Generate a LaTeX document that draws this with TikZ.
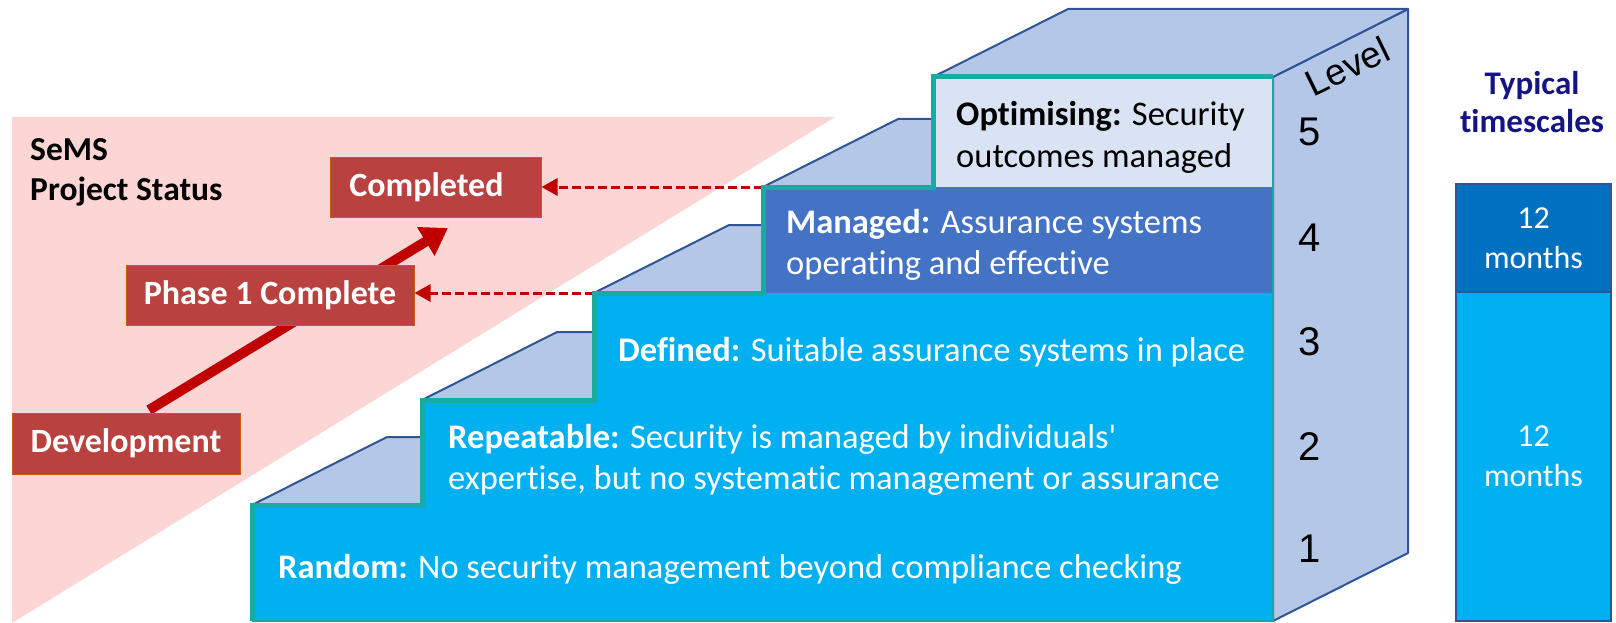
\documentclass[tikz,border=0pt]{standalone}
\usepackage{fontspec}
\setmainfont{Carlito}
\newfontfamily\calibri{Carlito}[Ligatures=NoCommon]
\newfontfamily\arialf{Liberation Sans}
\usetikzlibrary{arrows.meta}
\definecolor{pinkbg}{RGB}{252,213,213}
\definecolor{redbox}{RGB}{185,66,64}
\definecolor{redline}{RGB}{192,0,0}
\definecolor{boxedge}{RGB}{197,90,17}
\definecolor{tealc}{RGB}{24,170,165}
\definecolor{cyanc}{RGB}{0,176,240}
\definecolor{managedc}{RGB}{68,114,196}
\definecolor{optc}{RGB}{218,227,243}
\definecolor{topc}{RGB}{180,199,231}
\definecolor{edgec}{RGB}{47,85,151}
\definecolor{tsdark}{RGB}{0,112,192}
\definecolor{navyc}{RGB}{20,20,130}
\newcommand\twoL[2]{\vtop{\hbox{#1}\hbox{#2}}}
\newcommand\twoC[2]{\vtop{\halign{\hfil##\hfil\cr#1\cr#2\cr}}}
\begin{document}
\begin{tikzpicture}[x=1pt,y=-1pt,
  redlabel/.style={fill=redbox, draw=boxedge, line width=1pt, text=white,
    font=\calibri\bfseries\fontsize{34}{40}\selectfont, inner sep=0pt},
  steptext/.style={anchor=base west, inner sep=0pt, text=white,
    font=\calibri\fontsize{34.5}{41}\selectfont},
  levelnum/.style={anchor=base, inner sep=0pt, font=\arialf\fontsize{40}{48}\selectfont},
  tread/.style={fill=topc, draw=edgec, line width=2pt, line join=round},
  dasharrow/.style={redline, line width=3pt, dash pattern=on 9pt off 4pt,
    -{Triangle[length=16pt,width=17pt]}},
  bigarrow/.style={redline, line width=10pt, -{Triangle[length=26pt,width=32pt]}},
  tsbox/.style={draw=edgec, line width=1.5pt, minimum width=155pt, inner sep=0pt,
    text=white, font=\calibri\fontsize{32}{40}\selectfont}
]
\useasboundingbox (0,0) rectangle (1616,623);
% pink status background
\fill[pinkbg] (12,117) -- (835,117) -- (12,623) -- cycle;
% progress arrow (behind the boxes)
\coordinate (a0) at (149,410);
\coordinate (a1) at (448,228);
\draw[bigarrow] (a0) -- (a1);
% status boxes
\node[redlabel, minimum width=228pt, minimum height=61pt] (dev) at (126,443.5) {Development};
\node[redlabel, minimum width=288pt, minimum height=60pt] (ph) at (270,295) {Phase 1 Complete};
\node[redlabel, minimum width=211pt, minimum height=60pt] (comp) at (435.5,187) {Completed\kern18pt};
\node[anchor=base west, inner sep=0pt, font=\calibri\bfseries\fontsize{33.5}{40}\selectfont] (sems) at (30,160) {\twoL{SeMS}{Project Status}};
% step corner coordinates
\coordinate (s4) at (763,187);
\coordinate (s3) at (594,293);
\draw[dasharrow] (s4) -- (s4 -| comp.east);
\draw[dasharrow] (s3) -- (s3 -| ph.east);
% staircase: side and top faces
\filldraw[tread] (1273,77) -- (1408,9) -- (1408,553) -- (1273,621) -- cycle;
\filldraw[tread] (933,77) -- (1068,9) -- (1408,9) -- (1273,77) -- cycle;
\filldraw[tread] (763,187) -- (898,119) -- (933,119) -- (933,187) -- cycle;
\filldraw[tread] (594,293) -- (729,225) -- (763,225) -- (763,293) -- cycle;
\filldraw[tread] (422,400) -- (557,332) -- (594,332) -- (594,400) -- cycle;
\filldraw[tread] (252,505) -- (387,437) -- (422,437) -- (422,505) -- cycle;
% front faces
\fill[cyanc] (252,621) -- (252,505) -- (422,505) -- (422,400) -- (594,400) -- (594,293)
  -- (763,293) -- (763,187) -- (933,187) -- (933,77) -- (1273,77) -- (1273,621) -- cycle;
\fill[managedc] (763,187) rectangle (1273,293);
\fill[optc] (933,77) rectangle (1273,187);
\draw[tealc, line width=5pt, line join=miter] (252,621) -- (252,505) -- (422,505) -- (422,400)
  -- (594,400) -- (594,293) -- (763,293) -- (763,187) -- (933,187) -- (933,77) -- (1273,77);
\draw[tealc, line width=1.5pt] (1273,77) -- (1273,621) -- (252,621);
% step texts
\node[steptext, text=black] (t5) at (956,126) {\twoL{\textbf{Optimising:} Security}{outcomes managed}};
\node[steptext] (t4) at (786,233) {\twoL{\textbf{Managed:} Assurance systems}{operating and effective}};
\node[steptext] (t3) at (618,361) {\textbf{Defined:} Suitable assurance systems in place};
\node[steptext] (t2) at (448,448) {\twoL{\textbf{Repeatable:} Security is managed by individuals'}{expertise, but no systematic management or assurance}};
\node[steptext] (t1) at (278,578) {\textbf{Random:} No security management beyond compliance checking};
% level numbers
\node[anchor=base west, inner sep=0pt, rotate=26, font=\arialf\fontsize{37}{44}\selectfont] (lvl) at (1313,98) {Level};
\node[levelnum] (n5) at (1310,146) {5};
\node[levelnum] (n4) at (1310,251) {4};
\node[levelnum] (n3) at (1310,355) {3};
\node[levelnum] (n2) at (1310,460) {2};
\node[levelnum] (n1) at (1310,562) {1};
% timescales
\node[anchor=base, inner sep=0pt, text=navyc, font=\calibri\bfseries\fontsize{33}{38}\selectfont] (tsh) at (1532,95) {\twoC{Typical}{timescales}};
\node[tsbox, fill=tsdark, minimum height=108pt] (ts1) at (1533.5,238) {\twoC{12}{months}};
\node[tsbox, fill=cyanc, minimum height=329pt] (ts2) at (1533.5,456.5) {\twoC{12}{months}};
\end{tikzpicture}
\end{document}
